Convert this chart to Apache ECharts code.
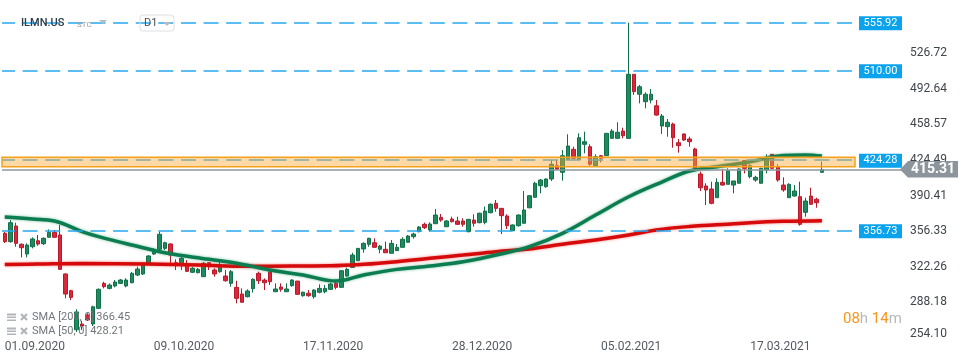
<!DOCTYPE html>
<html><head><meta charset="utf-8">
<script src="https://cdn.jsdelivr.net/npm/echarts@6/dist/echarts.min.js"></script>
<style>html,body{margin:0;padding:0;background:#fff}#c{width:970px;height:364px}</style>
</head><body><div id="c"></div>
<script>
// ---------- DATA ----------
const dates = [
'01.09.2020','02.09.2020','03.09.2020','04.09.2020','08.09.2020','09.09.2020','10.09.2020','11.09.2020','14.09.2020','15.09.2020','16.09.2020','17.09.2020','18.09.2020','21.09.2020','22.09.2020','23.09.2020','24.09.2020','25.09.2020','28.09.2020','29.09.2020','30.09.2020',
'01.10.2020','02.10.2020','05.10.2020','06.10.2020','07.10.2020','08.10.2020','09.10.2020','12.10.2020','13.10.2020','14.10.2020','15.10.2020','16.10.2020','19.10.2020','20.10.2020','21.10.2020','22.10.2020','23.10.2020','26.10.2020','27.10.2020','28.10.2020','29.10.2020','30.10.2020',
'02.11.2020','03.11.2020','04.11.2020','05.11.2020','06.11.2020','09.11.2020','10.11.2020','11.11.2020','12.11.2020','13.11.2020','16.11.2020','17.11.2020','18.11.2020','19.11.2020','20.11.2020','23.11.2020','24.11.2020','25.11.2020','27.11.2020','30.11.2020',
'01.12.2020','02.12.2020','03.12.2020','04.12.2020','07.12.2020','08.12.2020','09.12.2020','10.12.2020','11.12.2020','14.12.2020','15.12.2020','16.12.2020','17.12.2020','18.12.2020','21.12.2020','22.12.2020','23.12.2020','24.12.2020','28.12.2020','29.12.2020','30.12.2020','31.12.2020',
'04.01.2021','05.01.2021','06.01.2021','07.01.2021','08.01.2021','11.01.2021','12.01.2021','13.01.2021','14.01.2021','15.01.2021','19.01.2021','20.01.2021','21.01.2021','22.01.2021','25.01.2021','26.01.2021','27.01.2021','28.01.2021','29.01.2021',
'01.02.2021','02.02.2021','03.02.2021','04.02.2021','05.02.2021','08.02.2021','09.02.2021','10.02.2021','11.02.2021','12.02.2021','16.02.2021','17.02.2021','18.02.2021','19.02.2021','22.02.2021','23.02.2021','24.02.2021','25.02.2021','26.02.2021',
'01.03.2021','02.03.2021','03.03.2021','04.03.2021','05.03.2021','08.03.2021','09.03.2021','10.03.2021','11.03.2021','12.03.2021','15.03.2021','16.03.2021','17.03.2021','18.03.2021','19.03.2021','22.03.2021','23.03.2021','24.03.2021','25.03.2021','26.03.2021','29.03.2021','30.03.2021','31.03.2021',
'01.04.2021','05.04.2021','06.04.2021'];
const futureDates = ['07.04.2021','08.04.2021','09.04.2021','12.04.2021','13.04.2021','14.04.2021','15.04.2021','16.04.2021','19.04.2021','20.04.2021','21.04.2021','22.04.2021','23.04.2021','26.04.2021'];
const xTickLabels = ['01.09.2020','09.10.2020','17.11.2020','28.12.2020','05.02.2021','17.03.2021'];

const opens = [354.3,346.3,361.3,343.8,334.5,341.5,347.2,344.4,350.5,355.2,352.7,315.4,299.4,262.0,267.5,276.1,267.5,282.5,306.4,301.6,303.9,306.4,303.9,307.0,314.4,315.4,324.9,334.5,339.0,339.9,344.1,326.2,324.9,324.9,317.0,316.6,312.8,326.2,319.2,317.6,313.4,306.4,302.6,296.2,293.6,301.3,316.0,309.6,317.3,298.4,302.9,298.4,304.2,308.6,294.6,296.9,293.6,297.9,298.4,300.7,306.4,302.6,313.4,321.7,328.1,339.3,343.8,345.3,339.0,339.0,335.2,337.7,340.9,345.7,351.1,355.9,362.9,357.5,363.5,369.6,360.6,368.0,366.1,366.1,355.9,367.0,364.5,364.8,374.0,383.0,378.2,370.9,356.8,361.6,363.9,378.8,388.8,399.9,398.9,406.3,419.0,412.7,425.1,434.7,425.1,439.5,437.2,419.0,428.6,428.6,445.2,445.2,452.2,445.2,506.5,487.4,480.3,481.9,476.4,457.0,456.4,458.9,441.0,449.4,444.6,435.0,411.1,399.6,396.7,388.4,403.1,401.2,400.5,402.2,423.8,408.5,405.3,402.2,414.9,429.9,418.1,400.5,388.4,390.0,389.4,374.4,390.0,386.9,412.7];
const closes = [346.3,364.5,344.7,340.5,343.1,348.9,344.0,349.5,355.2,350.5,319.8,296.2,293.0,279.0,265.6,271.3,284.0,300.7,303.2,304.8,307.7,309.6,309.6,316.0,320.1,324.6,332.6,338.3,353.4,345.3,333.5,323.9,330.4,317.9,320.8,319.8,325.6,322.4,315.4,322.4,308.9,317.6,292.1,288.3,299.1,310.3,308.9,307.0,308.0,301.0,300.7,301.0,309.6,295.9,297.9,294.6,300.0,301.6,301.6,305.8,302.6,318.5,319.8,333.5,339.9,344.7,349.5,340.9,342.1,335.7,344.7,340.9,348.6,351.7,353.6,360.3,359.7,363.2,371.8,367.0,366.1,365.4,362.9,362.9,367.7,363.9,373.5,375.6,382.1,378.2,371.2,361.6,362.3,371.8,376.6,390.3,402.2,405.3,406.3,420.4,415.9,428.6,437.9,426.1,445.8,442.0,420.4,427.6,426.1,450.0,452.2,451.0,447.7,506.5,489.9,494.6,487.4,487.4,467.5,466.6,460.6,445.8,438.2,443.6,442.0,416.5,397.9,395.8,383.0,403.1,400.5,414.2,404.4,415.9,416.5,419.0,407.9,416.5,426.1,416.5,405.3,395.8,401.2,394.8,362.9,385.2,382.1,383.6,415.31];
const lows = [345.0,345.3,341.5,331.3,331.3,339.9,342.4,343.1,350.1,350.0,319.5,292.1,290.4,259.8,261.7,270.4,265.6,281.9,301.6,300.7,302.6,305.8,302.6,306.4,313.4,314.4,324.0,333.5,338.3,338.3,325.6,319.2,319.2,317.5,316.3,316.0,312.5,319.2,312.8,316.6,308.0,303.2,287.3,287.9,293.0,297.5,305.8,300.0,304.8,298.4,298.4,298.4,303.2,295.9,293.6,293.6,291.7,296.9,296.9,300.0,300.7,302.6,312.8,321.7,328.1,335.7,341.5,340.9,335.2,335.7,335.2,337.7,340.9,345.7,349.2,355.2,358.4,355.9,363.5,365.4,360.6,364.8,362.3,360.6,355.2,360.6,363.9,362.9,373.5,375.0,353.6,358.4,356.8,360.6,363.9,378.2,388.4,392.6,397.9,404.4,414.9,404.7,425.1,425.1,424.5,430.9,419.0,419.0,422.3,428.6,444.6,444.6,445.2,445.2,486.7,478.7,473.9,478.7,466.9,449.4,446.8,436.2,431.5,442.7,437.2,415.9,394.8,381.4,382.1,388.4,399.9,401.2,392.6,402.2,411.7,406.9,403.7,402.2,411.7,415.9,403.7,394.1,388.4,389.4,361.6,370.2,381.4,378.8,412.7];
const highs = [355.6,367.0,364.5,344.7,344.7,350.5,352.7,350.5,358.1,357.5,362.2,316.0,300.3,281.6,270.6,277.8,285.0,301.6,308.0,306.4,309.6,310.6,311.2,317.3,322.4,325.6,333.5,339.9,355.9,346.3,344.7,329.4,331.9,328.7,322.0,321.1,326.8,326.6,320.8,327.1,319.2,319.2,308.9,301.6,300.7,311.2,317.6,311.2,319.2,306.4,306.4,306.4,310.3,308.6,298.4,300.0,300.7,305.5,304.8,307.0,308.0,319.2,321.4,335.7,339.9,345.7,350.1,349.5,343.1,346.3,347.9,344.1,350.5,352.7,354.9,361.3,364.5,364.8,377.6,372.8,367.0,370.2,370.2,368.7,368.0,372.5,374.0,379.8,383.0,386.2,378.2,372.5,362.9,372.5,394.8,390.9,403.7,406.3,406.9,424.5,424.5,434.0,449.1,437.2,450.0,451.6,439.5,429.9,429.3,450.0,454.1,460.6,455.4,555.92,506.5,496.3,489.3,492.4,481.9,468.5,463.7,460.2,444.6,450.0,446.8,436.2,413.3,402.2,403.7,406.9,415.9,416.5,404.4,416.5,424.5,420.4,409.4,417.1,429.9,429.9,420.4,407.9,402.2,400.5,403.7,388.4,398.0,388.4,422.9];

const sma200Idx = [0,6,14,26,35,44,52,59,65,71,77,83,89,95,101,107,113,118,124,130,135,141,148];
const sma200Val = [324.5,324.9,325.4,324.9,324.0,322.7,323.0,323.2,324.6,327.1,330.4,333.5,336.7,339.3,343.8,347.9,352.7,357.5,360.8,362.7,364.5,365.8,366.45];
const sma50Idx = [0,5,9,14,17,23,29,37,42,48,54,60,65,71,77,83,89,95,101,107,113,119,124,129,135,141,145,148];
const sma50Val = [369.9,368.0,366.1,355.9,351.1,343.1,335.7,329.4,325.6,319.2,314.4,308.6,314.4,319.8,323.0,327.1,333.5,341.5,354.3,371.8,389.3,403.4,413.9,418.1,422.9,428.8,429.3,428.21];

const yTickLabels = ['254.10','288.18','322.26','356.33','390.41','424.49','458.57','492.64','526.72'];
const levelValues = [555.92, 510.00, 424.28, 356.73];
const levelLabels = ['555.92','510.00','424.28','356.73'];
const lastPrice = 415.31;
const lastPriceLabel = '415.31';
const zoneRange = [418.0, 427.0];
const legendTexts = ['SMA [200, 0] 366.45', 'SMA [50, 0] 428.21'];
const symbolName = 'ILMN.US';
const symbolType = 'STC';
const timeframe = 'D1';
const countdown = ['08', 'h', '14', 'm'];

// ---------- CHART ----------
const yMin = 254.10, yStep = 34.0775, yMax = 577.63;
const FONT = 'Roboto, "Noto Sans", sans-serif';
const chart = echarts.init(document.getElementById('c'), null, {renderer: 'canvas'});
const candles = opens.map((o, i) => [o, closes[i], lows[i], highs[i]]);
const cats = dates.concat(futureDates);
const labelSet = new Set(xTickLabels);

const levelLines = levelValues.map(v => ({yAxis: v}));
levelLines.push({yAxis: lastPrice, lineStyle: {type: 'solid', color: '#8d979d', width: 1.5, dashOffset: 0}});

chart.setOption({
  animation: false,
  backgroundColor: '#ffffff',
  grid: {left: 2, right: 68, top: 0, bottom: 26, containLabel: false},
  xAxis: {
    type: 'category', data: cats, boundaryGap: true,
    axisLine: {show: false}, axisTick: {show: false}, splitLine: {show: false},
    axisLabel: {
      interval: (idx, val) => labelSet.has(val),
      align: 'left', margin: 3, color: '#555b61', fontSize: 12, fontFamily: FONT
    }
  },
  yAxis: {
    type: 'value', position: 'right', min: yMin, max: yMax, interval: yStep, scale: true,
    axisLine: {show: false}, axisTick: {show: false}, splitLine: {show: false},
    axisLabel: {
      margin: 8, color: '#3f454b', fontSize: 12, fontFamily: FONT,
      formatter: v => {
        const r = (v - yMin) / yStep, k = Math.round(r);
        if (Math.abs(r - k) > 0.02 || k < 0 || k >= yTickLabels.length) return '';
        return k === 0 ? '{b|' + yTickLabels[0] + '}' : yTickLabels[k];
      },
      rich: {b: {fontSize: 12, color: '#3f454b', fontFamily: FONT, padding: [0, 0, 9, 0]}}
    }
  },
  series: [
    {
      type: 'candlestick', data: candles, barWidth: 4, z: 2,
      itemStyle: {color: '#1f8a5c', color0: '#d8283a', borderColor: '#11704a', borderColor0: '#b81a2b', borderWidth: 1},
      markLine: {
        symbol: 'none', silent: true, animation: false, label: {show: false},
        lineStyle: {type: [15, 7.62], dashOffset: 2, color: '#27a8ee', width: 1.5},
        emphasis: {disabled: true},
        data: levelLines
      }
    },
    {
      type: 'line', data: sma200Idx.map((x, i) => [x, sma200Val[i]]), smooth: 0.4, showSymbol: false, symbol: 'none', z: 3,
      lineStyle: {color: '#d60a0a', width: 3.5, shadowColor: 'rgba(230,40,40,0.55)', shadowBlur: 3}
    },
    {
      type: 'line', data: sma50Idx.map((x, i) => [x, sma50Val[i]]), smooth: 0.4, showSymbol: false, symbol: 'none', z: 4,
      lineStyle: {color: '#0b7d50', width: 3.5, shadowColor: 'rgba(20,140,90,0.55)', shadowBlur: 3}
    }
  ]
});

// ---------- OVERLAYS ----------
const yp = v => chart.convertToPixel({yAxisIndex: 0}, v);
const g = [];
// zone band
const zTop = yp(zoneRange[1]), zBot = yp(zoneRange[0]);
g.push({type: 'rect', z: 50, shape: {x: 2, y: zTop, width: 853, height: zBot - zTop},
  style: {fill: 'rgba(249,170,60,0.45)', stroke: '#f6a11c', lineWidth: 1.5}});
// level badges
levelValues.forEach((v, i) => {
  const y = yp(v);
  g.push({type: 'rect', z: 60, shape: {x: 859, y: y - 6.5, width: 43, height: 14}, style: {fill: '#0aa3ec'}});
  g.push({type: 'text', z: 61, x: 880.5, y: y + 0.5, style: {text: levelLabels[i], fill: '#ffffff', font: '11px ' + FONT, align: 'center', verticalAlign: 'middle'}});
});
// last price badge
const py = yp(lastPrice);
g.push({type: 'polygon', z: 60, shape: {points: [[900, py], [908, py - 8.5], [958, py - 8.5], [958, py + 8], [908, py + 8]]}, style: {fill: '#8b959b'}});
g.push({type: 'text', z: 61, x: 933, y: py, style: {text: lastPriceLabel, fill: '#ffffff', font: 'bold 14px ' + FONT, align: 'center', verticalAlign: 'middle'}});
// title
g.push({type: 'text', z: 70, x: 21, y: 23, style: {text: symbolName, fill: '#2e3b48', font: '500 11px ' + FONT, verticalAlign: 'middle'}});
g.push({type: 'text', z: 70, x: 77, y: 24.5, style: {text: symbolType, fill: '#9aa0a6', font: '8px ' + FONT, verticalAlign: 'middle'}});
g.push({type: 'polygon', z: 70, shape: {points: [[99, 20], [107, 20], [103, 24]]}, style: {fill: '#b8bcc0'}});
g.push({type: 'rect', z: 70, shape: {x: 140, y: 15, width: 34, height: 16, r: 3}, style: {fill: 'none', stroke: '#dde0e3', lineWidth: 1}});
g.push({type: 'text', z: 70, x: 144, y: 23.5, style: {text: timeframe, fill: '#4a4f55', font: '11px ' + FONT, verticalAlign: 'middle'}});
g.push({type: 'polygon', z: 70, shape: {points: [[163, 22], [171, 22], [167, 26]]}, style: {fill: '#b8bcc0'}});
// legend
[317.5, 331.5].forEach((y, i) => {
  g.push({type: 'rect', z: 70, shape: {x: 7, y: y - 4, width: 9, height: 2}, style: {fill: '#b0b4b8'}});
  g.push({type: 'rect', z: 70, shape: {x: 7, y: y - 1, width: 9, height: 1.5}, style: {fill: '#b0b4b8'}});
  g.push({type: 'rect', z: 70, shape: {x: 7, y: y + 2, width: 9, height: 1.5}, style: {fill: '#b0b4b8'}});
  g.push({type: 'line', z: 70, shape: {x1: 21, y1: y - 3.5, x2: 27, y2: y + 2.5}, style: {stroke: '#b0b4b8', lineWidth: 2}});
  g.push({type: 'line', z: 70, shape: {x1: 21, y1: y + 2.5, x2: 27, y2: y - 3.5}, style: {stroke: '#b0b4b8', lineWidth: 2}});
  g.push({type: 'text', z: 70, x: 32, y: y, style: {text: legendTexts[i], fill: '#70767c', font: '11px ' + FONT, verticalAlign: 'middle'}});
});
// countdown
g.push({type: 'text', z: 70, x: 843, y: 319, style: {
  text: '{o|' + countdown[0] + '}{g|' + countdown[1] + '} {o|' + countdown[2] + '}{g|' + countdown[3] + '}',
  font: '15px ' + FONT, verticalAlign: 'middle',
  rich: {o: {fill: '#f7961e', font: '15px ' + FONT}, g: {fill: '#b5b9bd', font: '15px ' + FONT}}
}});
chart.setOption({graphic: g});
</script></body></html>
